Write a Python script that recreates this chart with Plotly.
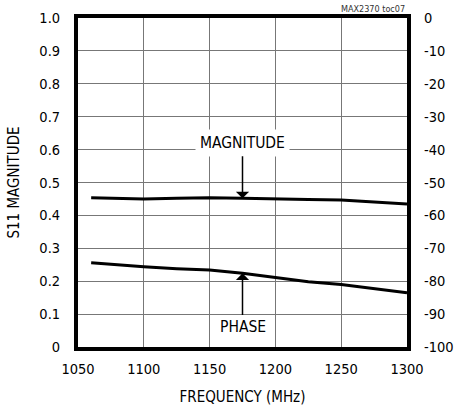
import plotly.graph_objects as go

# Data
freq_mhz = [1060, 1075, 1100, 1125, 1150, 1175, 1200, 1225, 1250, 1275, 1300]
s11_magnitude = [0.454, 0.452, 0.450, 0.452, 0.454, 0.452, 0.449, 0.448, 0.447, 0.442, 0.435]
s11_phase_deg = [-74.4, -74.9, -75.6, -76.2, -76.6, -77.6, -78.9, -80.2, -81.0, -82.2, -83.5]

x_ticks = [1050, 1100, 1150, 1200, 1250, 1300]
mag_ticks = [1.0, 0.9, 0.8, 0.7, 0.6, 0.5, 0.4, 0.3, 0.2, 0.1, 0]
mag_tick_labels = ["1.0", "0.9", "0.8", "0.7", "0.6", "0.5", "0.4", "0.3", "0.2", "0.1", "0"]
phase_ticks = [0, -10, -20, -30, -40, -50, -60, -70, -80, -90, -100]
phase_tick_labels = ["0", "-10", "-20", "-30", "-40", "-50", "-60", "-70", "-80", "-90", "-100"]

arrow_freq = 1175
FONT = "DejaVu Sans Condensed, Liberation Sans, Arial, sans-serif"

fig = go.Figure()
fig.add_trace(go.Scatter(x=freq_mhz, y=s11_magnitude, mode="lines",
                         line=dict(color="black", width=3), yaxis="y", showlegend=False))
fig.add_trace(go.Scatter(x=freq_mhz, y=s11_phase_deg, mode="lines",
                         line=dict(color="black", width=3), yaxis="y2", showlegend=False))

idx = freq_mhz.index(arrow_freq)

fig.update_layout(
    width=456, height=406,
    margin=dict(l=78, r=49, t=18, b=59),
    paper_bgcolor="white", plot_bgcolor="white",
    font=dict(family=FONT, size=14.5, color="black"),
    xaxis=dict(range=[1050, 1300], tickvals=x_ticks, ticks="", showgrid=True,
               gridcolor="#777777", gridwidth=1.3, showline=True, linecolor="black",
               linewidth=4, mirror=True, zeroline=False, ticklabelstandoff=6,
               automargin=False,
               title=dict(text="FREQUENCY (MHz)", standoff=16, font=dict(size=15))),
    yaxis=dict(range=[0, 1], tickvals=mag_ticks, ticktext=mag_tick_labels, ticks="",
               showgrid=True, gridcolor="#777777", gridwidth=1.3, showline=True,
               linecolor="black", linewidth=4, mirror=True, zeroline=False,
               ticklabelstandoff=11, automargin=False,
               title=dict(text="S11 MAGNITUDE", standoff=17, font=dict(size=15))),
    yaxis2=dict(range=[-100, 0], overlaying="y", side="right", tickvals=phase_ticks,
                ticktext=phase_tick_labels, ticks="", showgrid=False, zeroline=False,
                showline=False, ticklabelstandoff=16, automargin=False),
    annotations=[
        dict(x=arrow_freq, y=s11_magnitude[idx], xref="x", yref="y",
             ax=arrow_freq, ay=0.621, axref="x", ayref="y",
             text="MAGNITUDE", showarrow=True, arrowhead=1, arrowsize=1.47,
             arrowwidth=1.5, arrowcolor="black", bgcolor="white", borderpad=4,
             font=dict(size=15.5)),
        dict(x=arrow_freq, y=s11_phase_deg[idx], xref="x", yref="y2",
             ax=arrow_freq, ay=-93.8, axref="x", ayref="y2",
             text="PHASE", showarrow=True, arrowhead=1, arrowsize=1.47,
             arrowwidth=1.5, arrowcolor="black", borderpad=2,
             font=dict(size=15.5)),
        dict(x=1, y=1.026, xref="paper", yref="paper", xanchor="right", yanchor="middle",
             text="MAX2370 toc07", showarrow=False, font=dict(size=9, color="#333333")),
    ],
)

fig.write_html("out.html", config={"displayModeBar": False},
               post_script="document.body.style.margin='0px';")
